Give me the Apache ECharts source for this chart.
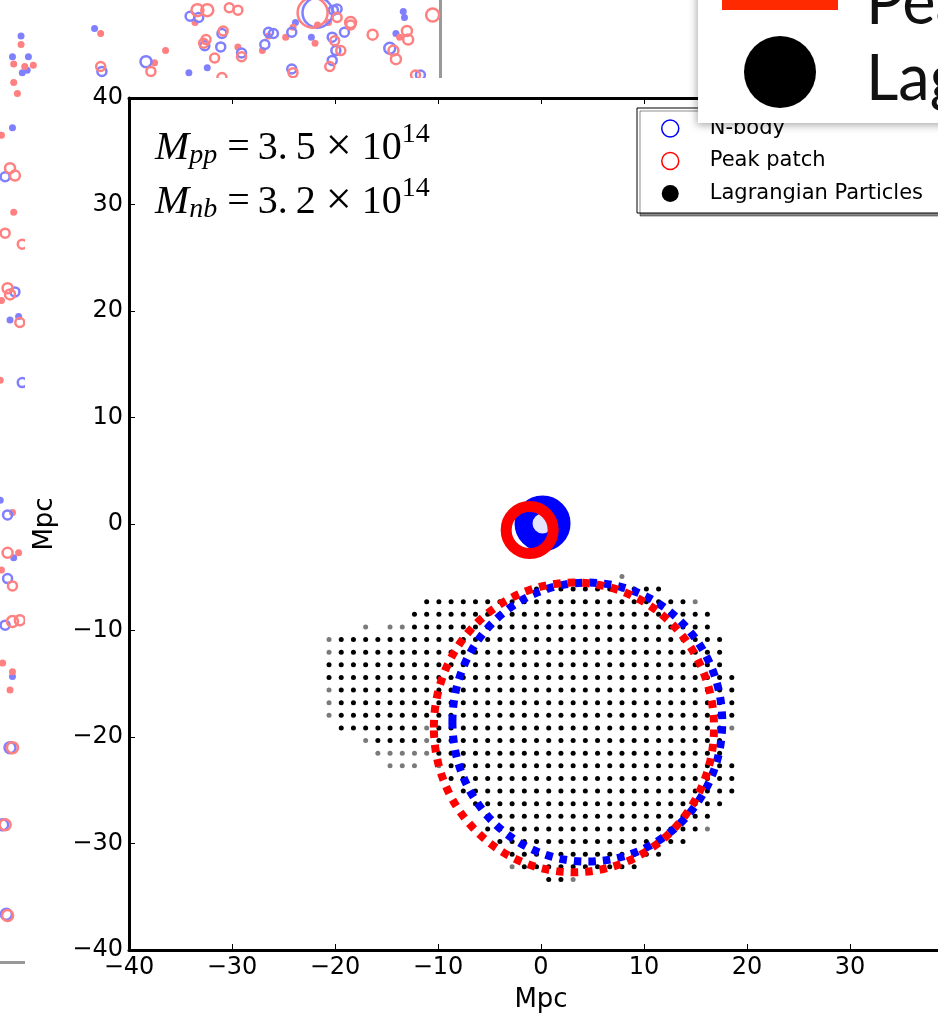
<!DOCTYPE html>
<html>
<head>
<meta charset="utf-8">
<script src="https://cdn.jsdelivr.net/npm/echarts@6/dist/echarts.min.js"></script>
<style>
  html, body { margin: 0; padding: 0; background: #fff; }
  #chart { width: 938px; height: 1025px; }
</style>
</head>
<body>
<div id="chart"></div>
<script>
// ---------------------------------------------------------------
// Lagrangian particle lattice, one mask per row (top row first),
// written in groups of ten columns (spaces are only separators).
// 'b' = particle, 'g' = faint particle, '.' = no particle
// ---------------------------------------------------------------
const latticeX0 = -20.58;     // Mpc, first column
const latticeYTop = -4.93;    // Mpc, first row
const latticeStep = 1.185;    // Mpc, lattice spacing
const latticeRows = [
  ".......... .......... ....g..... ....",
  ".......... .......bbb bbbbbbbb.. ....",
  "........bb bbbbbbbbbb bbbbbbbbbb g...",
  ".......bbb bbbbbbbbbb bbbbbbbbbb bb..",
  "...g.ggbbb bbbbbbbbbb bbbbbbbbbb bb..",
  "gbbbbbbbbb bbbbbbbbbb bbbbbbbbbb bbb.",
  "gbbbbbbbbb bbbbbbbbbb bbbbbbbbbb bbb.",
  "bbbbbbbbbb bbbbbbbbbb bbbbbbbbbb bbb.",
  "bbbbbbbbbb bbbbbbbbbb bbbbbbbbbb bbbb",
  "gbbbbbbbbb bbbbbbbbbb bbbbbbbbbb bbbb",
  "gbbbbbbbbb bbbbbbbbbb bbbbbbbbbb bbbb",
  "gbbbbbbbbb bbbbbbbbbb bbbbbbbbbb bbbb",
  ".bbbbbbbgb bbbbbbbbbb bbbbbbbbbb bbbg",
  "...gbbbbgb bbbbbbbbbb bbbbbbbbbb bbb.",
  "....gggggb bbbbbbbbbb bbbbbbbbbb bbb.",
  ".....ggg.g bbbbbbbbbb bbbbbbbbbb bbbb",
  ".......... bbbbbbbbbb bbbbbbbbbb bbbb",
  ".......... .bbbbbbbbb bbbbbbbbbb bbbb",
  ".......... ..bbbbbbbb bbbbbbbbbb bbb.",
  ".......... ...bbbbbbb bbbbbbbbbb bb..",
  ".......... ...bbbbbbb bbbbbbbbbb bg..",
  ".......... ....bbbbbb bbbbbbbbbb ....",
  ".......... .....bbbbb bbbbbbbb.. ....",
  ".......... .....gbbbb bbbbbb.... ....",
  ".......... ........bb g......... ...."
];

// Halo centres (Mpc)
const nbodyHalo = [0.15, 0.05];
const peakHalo = [-1.1, -0.56];
// Lagrangian radius circles: [centre x, centre y, radius] in Mpc
const nbodyRadius = [4.5, -18.6, 13.1];
const peakRadius = [3.2, -19.1, 13.6];

// Annotation lines
const massLines = [
  { sub: 'pp', value: '3.\u20095', exp: '14' },
  { sub: 'nb', value: '3.\u20092', exp: '14' }
];

// Neighbouring panel (partly hidden behind the figure): halo positions
const bgBlueDots = [
  [5.8, 35.6], [5.1, 33.9], [6.4, 33.9], [5.9, 32.6], [6.3, 32.8], [11.8, 36.2],
  [19.5, 32.6], [21.0, 33.0], [28.2, 36.7], [29.5, 35.5], [36.4, 35.8], [37.0, 37.6],
  [37.1, 37.1], [5.1, 28.1], [4.9, 12.4], [5.6, 12.7], [4.1, -2.3], [5.2, -7.0], [5.1, -16.7]
];
const bgPinkDots = [
  [5.8, 34.9], [5.2, 33.3], [6.1, 33.1], [6.8, 33.2], [5.2, 31.8], [5.5, 30.9],
  [12.3, 35.8], [16.7, 33.4], [17.6, 34.4], [20.0, 36.7], [23.5, 34.7], [25.5, 34.4],
  [26.0, 35.6], [27.4, 35.5], [28.0, 36.3], [29.8, 35.0], [30.0, 36.5], [30.9, 36.7],
  [36.7, 35.5], [4.2, 27.5], [5.2, 21.2], [4.2, 14.0], [4.1, 7.5], [5.1, -3.3],
  [5.6, -6.6], [4.2, -8.0], [4.3, -15.6], [5.1, -16.3], [4.9, -17.8]
];
// [x, y, marker size]
const bgBlueRings = [
  [12.4, 32.7, 9], [16.0, 33.5, 11], [19.6, 37.2, 9], [20.3, 37.1, 9], [20.8, 34.8, 9],
  [22.1, 34.7, 9], [22.2, 35.8, 9], [23.8, 34.2, 9], [25.7, 34.9, 9], [26.0, 35.9, 9],
  [26.4, 35.8, 9], [27.9, 32.9, 9], [27.9, 35.9, 9], [30.0, 37.5, 30], [31.3, 37.7, 9],
  [31.6, 37.8, 9], [31.2, 35.5, 9], [31.5, 34.4, 9], [31.2, 33.6, 9], [32.2, 35.9, 9],
  [35.9, 34.6, 11], [38.4, 32.4, 9], [4.5, 24.1, 9], [5.3, 14.7, 9], [5.9, 7.3, 9],
  [4.7, -3.5, 9], [4.7, -8.7, 9], [4.5, -12.5, 9], [4.9, -22.5, 11], [4.3, -28.8, 11],
  [4.6, -36.1, 11]
];
const bgPinkRings = [
  [12.3, 33.1, 9], [16.4, 32.7, 9], [20.7, 35.0, 9], [20.9, 35.3, 9], [22.3, 36.0, 9],
  [23.8, 33.9, 9], [21.6, 33.8, 9], [22.2, 32.2, 9], [20.2, 37.7, 12], [21.0, 37.7, 12],
  [22.8, 37.9, 9], [23.5, 37.7, 9], [28.0, 32.6, 9], [29.6, 37.5, 30], [31.6, 37.1, 9],
  [31.4, 35.2, 9], [31.9, 34.4, 9], [31.0, 33.1, 9], [32.7, 36.7, 11], [32.7, 36.5, 9],
  [34.5, 35.7, 10], [36.2, 34.4, 10], [36.4, 33.7, 10], [37.3, 36.0, 10], [37.4, 35.3, 10],
  [39.4, 37.3, 13], [38.0, 32.4, 9], [4.9, 24.8, 10], [5.3, 24.2, 10], [4.5, 19.5, 9],
  [5.9, 18.6, 9], [4.7, 15.0, 10], [4.9, 14.5, 10], [5.7, 12.2, 9], [4.7, -6.6, 10],
  [5.1, -9.3, 9], [5.1, -12.2, 11], [5.7, -12.1, 10], [5.1, -22.5, 11], [4.5, -28.8, 11],
  [4.7, -36.2, 11]
];

// ---------------------------------------------------------------
const particles = [];
latticeRows.forEach((rowText, r) => {
  const row = rowText.replace(/ /g, '');
  for (let c = 0; c < row.length; c++) {
    const ch = row[c];
    if (ch === '.') continue;
    particles.push([latticeX0 + c * latticeStep, latticeYTop - r * latticeStep, ch === 'g' ? 1 : 0]);
  }
});

const minusFmt = v => (v < 0 ? '\u2212' + Math.abs(v) : String(v));
const FONT = 'DejaVu Sans';
const PINK = '#ff8080', LIGHTBLUE = '#8080ff';

function radiusCircle(color) {
  return function (params, api) {
    const c = api.coord([api.value(0), api.value(1)]);
    const s = api.size([api.value(2), api.value(2)]);
    return {
      type: 'ellipse',
      shape: { cx: c[0], cy: c[1], rx: s[0], ry: s[1] },
      style: { fill: 'none', stroke: color, lineWidth: 8, lineDash: [7.5, 7] }
    };
  };
}

const mainAxisCommon = {
  type: 'value', min: -40, max: 40, interval: 10, gridIndex: 0, z: 10,
  axisLine: { show: true, onZero: false, lineStyle: { color: '#000', width: 3 } },
  axisTick: { show: true, inside: true, length: 6, lineStyle: { color: '#000', width: 1 } },
  splitLine: { show: false }
};

const serif = 'Liberation Serif';
const massRich = {
  M: { fontFamily: serif, fontStyle: 'italic', fontSize: 41, lineHeight: 54, verticalAlign: 'middle', color: '#000' },
  s: { fontFamily: serif, fontStyle: 'italic', fontSize: 28, verticalAlign: 'bottom', padding: [0, 0, 5, 0], color: '#000' },
  t: { fontFamily: serif, fontSize: 40, lineHeight: 54, verticalAlign: 'middle', color: '#000' },
  x: { fontFamily: serif, fontSize: 46, lineHeight: 54, verticalAlign: 'middle', color: '#000' },
  p: { fontFamily: serif, fontSize: 28, verticalAlign: 'top', color: '#000' }
};
const massText = massLines.map(l =>
  '{M|M}{s|' + l.sub + '}{t|\u2005=\u2009' + l.value + ' }{x|\u00d7}{t| 10}{p|' + l.exp + '}'
).join('\n');

const option = {
  animation: false,
  backgroundColor: '#fff',
  textStyle: { fontFamily: FONT },
  grid: [
    { left: 129, top: 98, width: 824, height: 852, containLabel: false, outerBoundsMode: 'none' },
    { left: -540, top: -18, width: 980, height: 980, containLabel: false, outerBoundsMode: 'none' }
  ],
  xAxis: [
    Object.assign({}, mainAxisCommon, {
      position: 'bottom',
      name: 'Mpc', nameLocation: 'middle', nameGap: 37,
      nameTextStyle: { fontFamily: FONT, fontSize: 26, color: '#000' },
      axisLabel: { show: true, margin: 6, fontFamily: FONT, fontSize: 24, color: '#000', formatter: minusFmt, showMinLabel: true, showMaxLabel: true }
    }),
    Object.assign({}, mainAxisCommon, {
      position: 'top', axisLabel: { show: false }
    }),
    {
      type: 'value', min: -40, max: 40, gridIndex: 1, position: 'bottom', z: 0,
      axisLine: { show: true, onZero: false, lineStyle: { color: '#999', width: 3 } },
      axisTick: { show: false }, axisLabel: { show: false }, splitLine: { show: false }
    }
  ],
  yAxis: [
    Object.assign({}, mainAxisCommon, {
      position: 'left',
      name: 'Mpc', nameLocation: 'middle', nameGap: 71,
      nameTextStyle: { fontFamily: FONT, fontSize: 26, color: '#000' },
      axisLabel: { show: true, margin: 6, fontFamily: FONT, fontSize: 24, color: '#000', formatter: minusFmt, showMinLabel: true, showMaxLabel: true }
    }),
    {
      type: 'value', min: -40, max: 40, gridIndex: 1, position: 'right', z: 0,
      axisLine: { show: true, onZero: false, lineStyle: { color: '#999', width: 3 } },
      axisTick: { show: false }, axisLabel: { show: false }, splitLine: { show: false }
    }
  ],
  legend: {
    orient: 'vertical', left: 637, top: 108, z: 20,
    padding: [10, 40, 9, 24], itemGap: 11.5,
    itemWidth: 17, itemHeight: 17,
    backgroundColor: '#fff', borderColor: '#000', borderWidth: 1, borderRadius: 0,
    shadowColor: 'rgba(0,0,0,0.45)', shadowBlur: 0, shadowOffsetX: 3, shadowOffsetY: 3,
    selectedMode: false,
    textStyle: { fontFamily: FONT, fontSize: 21, color: '#000', padding: [0, 0, 0, 26] },
    data: [
      { name: 'N-body', icon: 'circle', itemStyle: { color: '#fff', borderColor: '#0000ff', borderWidth: 1.5 } },
      { name: 'Peak patch', icon: 'circle', itemStyle: { color: '#fff', borderColor: '#ff0000', borderWidth: 1.5 } },
      { name: 'Lagrangian Particles', icon: 'circle', itemStyle: { color: '#000', borderWidth: 0 } }
    ]
  },
  graphic: { elements: [
    // figure canvas over the neighbouring panel
    { type: 'rect', z: 3, silent: true, shape: { x: 25, y: 78, width: 920, height: 960 }, style: { fill: '#fff' } },
    // mass annotation
    { type: 'text', z: 15, x: 155, y: 121, silent: true,
      style: { text: massText, rich: massRich, verticalAlign: 'top', align: 'left' } },
    // slide legend box on top
    { type: 'group', z: 30, silent: true, children: [
      { type: 'rect', z: 30, shape: { x: 698, y: -20, width: 260, height: 143 },
        style: { fill: '#fff', shadowBlur: 8, shadowColor: 'rgba(0,0,0,0.35)', shadowOffsetX: -1, shadowOffsetY: 2 } },
      { type: 'rect', z: 31, shape: { x: 722, y: -30, width: 116, height: 40 }, style: { fill: '#ff2a00' } },
      { type: 'circle', z: 31, shape: { cx: 780, cy: 72, r: 36 }, style: { fill: '#000' } },
      { type: 'text', z: 31, x: 866, y: 4, style: { text: 'Peak patch', font: '63px Lato', fill: '#111', verticalAlign: 'middle', align: 'left' } },
      { type: 'text', z: 31, x: 866, y: 80, style: { text: 'Lagrangian Particles', font: '63px Lato', fill: '#111', verticalAlign: 'middle', align: 'left' } }
    ] }
  ] },
  series: [
    { type: 'scatter', name: 'bg-blue', xAxisIndex: 2, yAxisIndex: 1, z: 1, silent: true,
      symbolSize: 7, itemStyle: { color: LIGHTBLUE, opacity: 1 }, data: bgBlueDots },
    { type: 'scatter', name: 'bg-pink', xAxisIndex: 2, yAxisIndex: 1, z: 1, silent: true,
      symbolSize: 7, itemStyle: { color: PINK, opacity: 1 }, data: bgPinkDots },
    { type: 'scatter', name: 'bg-blue-ring', xAxisIndex: 2, yAxisIndex: 1, z: 1, silent: true,
      symbolSize: d => d[2], itemStyle: { color: 'rgba(0,0,0,0)', borderColor: LIGHTBLUE, borderWidth: 2.5, opacity: 1 }, data: bgBlueRings },
    { type: 'scatter', name: 'bg-pink-ring', xAxisIndex: 2, yAxisIndex: 1, z: 1, silent: true,
      symbolSize: d => d[2], itemStyle: { color: 'rgba(0,0,0,0)', borderColor: PINK, borderWidth: 2.5, opacity: 1 }, data: bgPinkRings },

    { type: 'scatter', name: 'Lagrangian Particles', xAxisIndex: 0, yAxisIndex: 0, z: 10, silent: true,
      symbolSize: 5,
      itemStyle: { opacity: 1, color: p => (p.data[2] ? '#7a7a7a' : '#000') },
      data: particles },
    { type: 'custom', name: 'N-body radius', xAxisIndex: 0, yAxisIndex: 0, z: 11, silent: true,
      renderItem: radiusCircle('#0000ff'), data: [nbodyRadius] },
    { type: 'custom', name: 'Peak patch radius', xAxisIndex: 0, yAxisIndex: 0, z: 12, silent: true,
      renderItem: radiusCircle('#ff0000'), data: [peakRadius] },
    { type: 'scatter', name: 'N-body', xAxisIndex: 0, yAxisIndex: 0, z: 13, silent: true,
      symbolSize: 38,
      itemStyle: { color: '#e4e4ff', borderColor: '#0000ff', borderWidth: 18, opacity: 1 },
      data: [nbodyHalo] },
    { type: 'scatter', name: 'Peak patch', xAxisIndex: 0, yAxisIndex: 0, z: 14, silent: true,
      symbolSize: 47,
      itemStyle: { color: 'rgba(0,0,0,0)', borderColor: '#ff0000', borderWidth: 11, opacity: 1 },
      data: [peakHalo] }
  ]
};

const chart = echarts.init(document.getElementById('chart'), null, { renderer: 'canvas' });
chart.setOption(option);
</script>
</body>
</html>
